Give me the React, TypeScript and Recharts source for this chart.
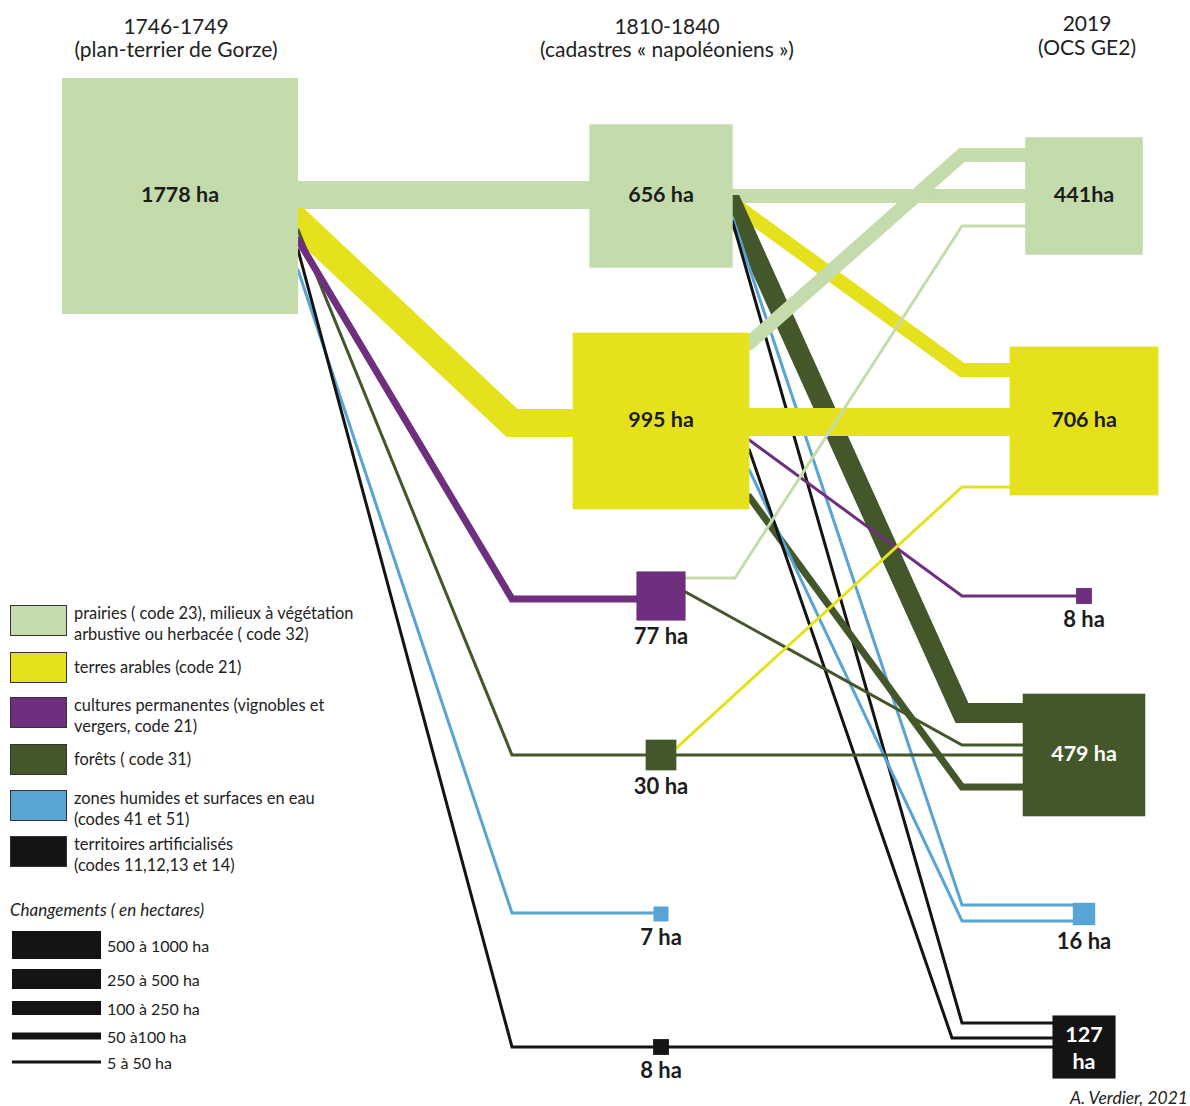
import { ComposedChart, Line, Scatter, XAxis, YAxis } from "recharts";

const W = 1190;
const H = 1106;
const FONT = "Lato, 'Noto Sans', sans-serif";

// périodes (colonnes)
const periods = ["1746-1749", "1810-1840", "2019"];
const periodSources = ["(plan-terrier de Gorze)", "(cadastres « napoléoniens »)", "(OCS GE2)"];

// types d'occupation du sol (légende)
const landTypes = [
  ["prairies ( code 23), milieux à végétation", "arbustive ou herbacée  ( code 32)"],
  ["terres arables (code 21)"],
  ["cultures permanentes (vignobles et", "vergers, code 21)"],
  ["forêts ( code 31)"],
  ["zones humides et surfaces en eau", "(codes 41 et 51)"],
  ["territoires artificialisés", "(codes 11,12,13 et 14)"],
];
const typeColors = ["#c4dcac", "#e5e21d", "#6d2f7e", "#44572b", "#58a4d5", "#141414"];

// surfaces en hectares par période
const areas1748 = [1778, null, null, null, null, null];
const areas1825 = [656, 995, 77, 30, 7, 8];
const areas2019 = [441, 706, 8, 479, 16, 127];
const labels1748 = ["1778 ha", "", "", "", "", ""];
const labels1825 = ["656 ha", "995 ha", "77 ha", "30 ha", "7 ha", "8 ha"];
const labels2019 = ["441ha", "706 ha", "8 ha", "479 ha", "16 ha", "127 ha"];

// classes de changements
const changeClasses = ["5 à 50 ha", "50 à100 ha", "100 à 250 ha", "250 à 500 ha", "500 à 1000 ha"];

// flux : période de départ, type de départ, type d'arrivée, classe
const flows = [
  { period: 0, from: 0, to: 0, cls: 4 },
  { period: 0, from: 0, to: 1, cls: 4 },
  { period: 0, from: 0, to: 3, cls: 0 },
  { period: 0, from: 0, to: 4, cls: 0 },
  { period: 0, from: 0, to: 5, cls: 0 },
  { period: 0, from: 0, to: 2, cls: 1 },
  { period: 1, from: 0, to: 0, cls: 2 },
  { period: 1, from: 0, to: 1, cls: 2 },
  { period: 1, from: 0, to: 3, cls: 3 },
  { period: 1, from: 0, to: 4, cls: 0 },
  { period: 1, from: 0, to: 5, cls: 0 },
  { period: 1, from: 1, to: 1, cls: 4 },
  { period: 1, from: 1, to: 0, cls: 2 },
  { period: 1, from: 1, to: 2, cls: 0 },
  { period: 1, from: 1, to: 3, cls: 1 },
  { period: 1, from: 1, to: 4, cls: 0 },
  { period: 1, from: 1, to: 5, cls: 0 },
  { period: 1, from: 2, to: 0, cls: 0 },
  { period: 1, from: 2, to: 3, cls: 0 },
  { period: 1, from: 3, to: 3, cls: 0 },
  { period: 1, from: 3, to: 1, cls: 0 },
  { period: 1, from: 5, to: 5, cls: 0 },
];

// mise en page (unités du graphique)
const colX = [180, 661, 1084];
const rowY = [196, 421, 596, 755, 914, 1047];
const bendX = [512, 962];
const sidePerRootHa = 5.6;
const minSide = 15;
const classWidth = [3, 7, 14, 20, 28];
// décalage sortie, décalage entrée, coude (optionnel), départ horizontal (optionnel)
const flowPorts: number[][] = [
  [-1, -1], [26, 2], [34, 0], [74, -1], [54, 0], [44, 3],
  [0, 0], [7, -51], [9, -42], [22, -9], [26, -24],
  [1, 1], [-78, -41], [19, 0], [76, 32], [49, 7], [29, -9, 952],
  [-18, 30, 962, 735], [-4, -10],
  [0, 0], [-7, 66],
  [0, 0],
];

const areasByPeriod = [areas1748, areas1825, areas2019];
const labelsByPeriod = [labels1748, labels1825, labels2019];

const nodes = areasByPeriod.flatMap((areas, p) =>
  areas
    .map((ha, t) => (ha == null ? null : { x: colX[p], y: rowY[t], ha, type: t, label: labelsByPeriod[p][t] }))
    .filter((n) => n !== null)
);

const side = (ha: number) => Math.max(minSide, sidePerRootHa * Math.sqrt(ha));

const flowLines = flows.map((f, i) => {
  const [exitDy, entryDy, bend, run] = flowPorts[i];
  const srcHa = areasByPeriod[f.period][f.from] as number;
  const x0 = colX[f.period];
  const x1 = colX[f.period + 1];
  const y0 = rowY[f.from] + exitDy;
  const y1 = rowY[f.to] + entryDy;
  const edge = run ?? x0 + side(srcHa) / 2;
  return [
    { x: x0, y: y0 },
    { x: edge, y: y0 },
    { x: bend ?? bendX[f.period], y: y1 },
    { x: x1, y: y1 },
  ];
});

const NodeShape = (props: any) => {
  const { cx, cy, payload } = props;
  const s = side(payload.ha);
  const light = payload.type === 3 || payload.type === 5;
  const txt = light ? "#ffffff" : "#1c1c1c";
  const style = { fontFamily: FONT, fontWeight: 700, fontSize: 21.5 };
  let label;
  if (payload.ha >= 100 && s >= 100) {
    label = (
      <text x={cx} y={cy - 2} textAnchor="middle" dominantBaseline="central" fill={txt} style={style}>
        {payload.label}
      </text>
    );
  } else if (payload.ha >= 100) {
    const parts = payload.label.split(" ");
    label = (
      <g>
        <text x={cx} y={cy - 13} textAnchor="middle" dominantBaseline="central" fill={txt} style={style}>{parts[0]}</text>
        <text x={cx} y={cy + 14} textAnchor="middle" dominantBaseline="central" fill={txt} style={style}>{parts[1]}</text>
      </g>
    );
  } else {
    label = (
      <text x={cx} y={cy + s / 2 + 15} textAnchor="middle" dominantBaseline="central" fill="#1c1c1c" style={{ ...style, fontSize: 22 }}>
        {payload.label}
      </text>
    );
  }
  return (
    <g>
      <rect x={cx - s / 2} y={cy - s / 2} width={s} height={s} fill={typeColors[payload.type]} />
      {label}
    </g>
  );
};

const legendTop = [605, 652, 697, 744, 790, 836];
const classRowY = [1062, 1036, 1008, 979, 945];

const Overlay = () => (
  <svg width={W} height={H} style={{ position: "absolute", left: 0, top: 0, pointerEvents: "none" }}>
    <g style={{ fontFamily: FONT, fontSize: 21 }} fill="#222">
      {periods.map((p, i) => (
        <g key={p}>
          <text x={[176, 667, 1087][i]} y={i === 2 ? 22 : 25} textAnchor="middle" dominantBaseline="central">{p}</text>
          <text x={[176, 667, 1087][i]} y={i === 2 ? 46 : 48} textAnchor="middle" dominantBaseline="central">{periodSources[i]}</text>
        </g>
      ))}
    </g>
    <g style={{ fontFamily: FONT, fontSize: 16.4 }} fill="#222">
      {landTypes.map((lines, i) => (
        <g key={i}>
          <rect x={10.5} y={legendTop[i] + 0.5} width={56} height={30} fill={typeColors[i]} stroke="#333" strokeWidth={1} />
          {lines.map((l, j) => (
            <text key={j} x={74} y={legendTop[i] + (lines.length === 1 ? 14 : 7 + j * 21)} dominantBaseline="central">{l}</text>
          ))}
        </g>
      ))}
      <text x={10} y={909} dominantBaseline="central" fontStyle="italic" fontSize={17}>Changements ( en hectares)</text>
      {changeClasses.map((c, i) => (
        <g key={c}>
          <rect x={12} y={classRowY[i] - classWidth[i] / 2} width={89} height={classWidth[i]} fill="#141414" />
          <text x={107} y={classRowY[i]} dominantBaseline="central" fontSize={16}>{c}</text>
        </g>
      ))}
      <text x={1188} y={1097} textAnchor="end" dominantBaseline="central" fontStyle="italic" fontSize={17.5}>A. Verdier, 2021</text>
    </g>
  </svg>
);

export default function App() {
  return (
    <div style={{ position: "absolute", left: 0, top: 0, width: W, height: H, background: "#fff" }}>
      <ComposedChart width={W} height={H} margin={{ top: 0, right: 0, bottom: 0, left: 0 }}>
        <XAxis type="number" dataKey="x" domain={[0, W]} hide />
        <YAxis type="number" dataKey="y" domain={[0, H]} reversed hide />
        {flowLines.map((pts, i) => (
          <Line
            key={i}
            data={pts}
            dataKey="y"
            type="linear"
            stroke={typeColors[flows[i].to]}
            strokeWidth={classWidth[flows[i].cls]}
            strokeLinejoin="miter"
            strokeLinecap="butt"
            dot={false}
            activeDot={false}
            legendType="none"
            isAnimationActive={false}
          />
        ))}
        <Scatter data={nodes} shape={NodeShape} isAnimationActive={false} />
      </ComposedChart>
      <Overlay />
    </div>
  );
}
